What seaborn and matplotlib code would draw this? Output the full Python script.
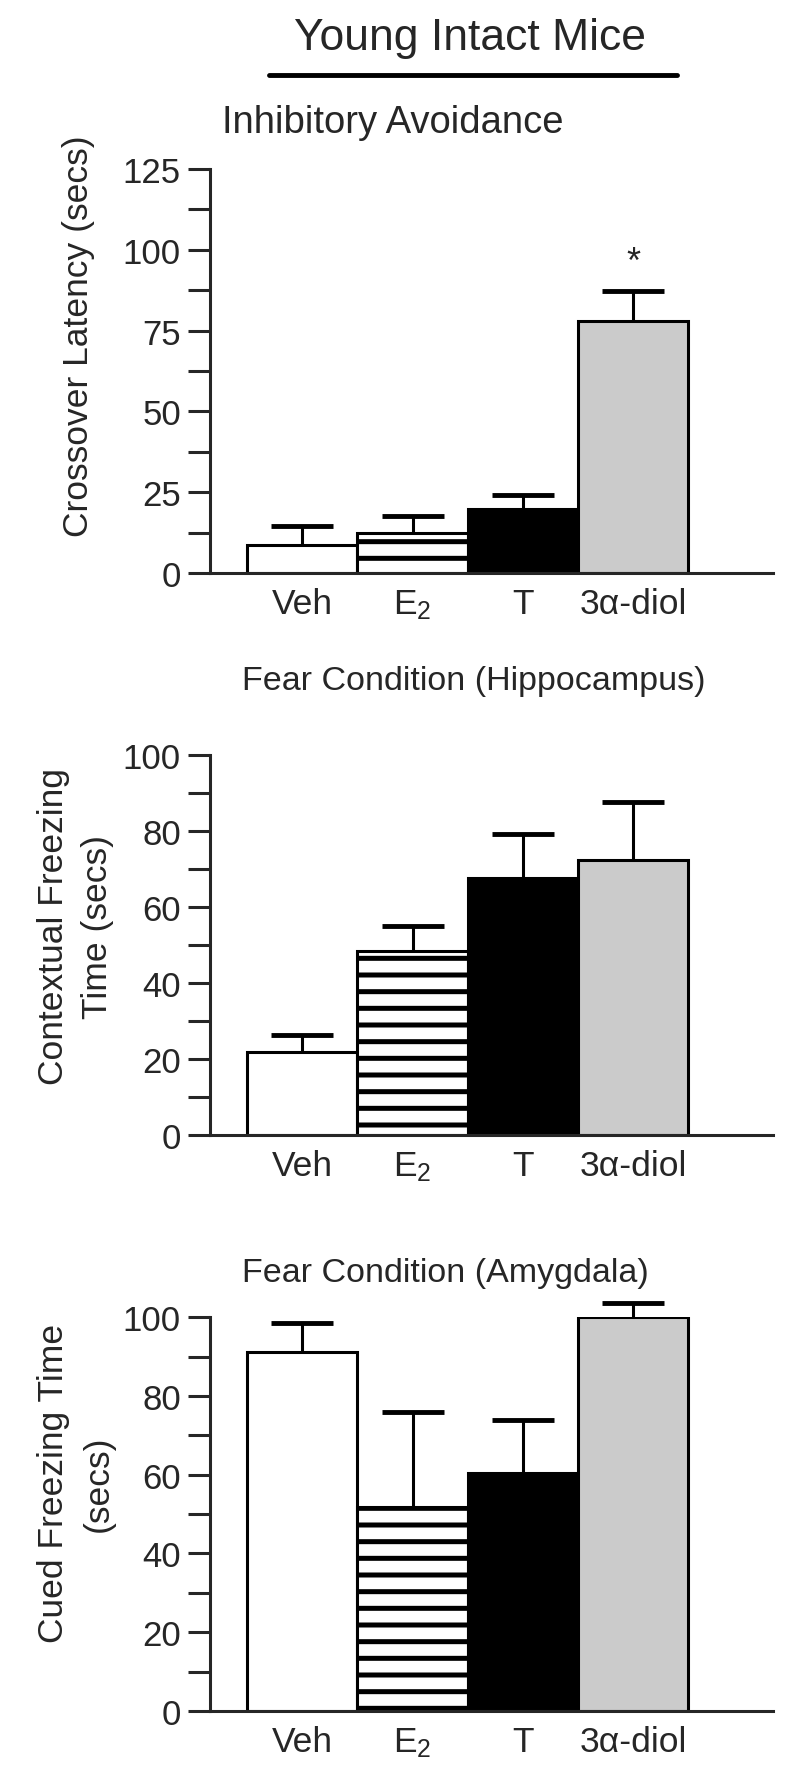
import numpy as np
import pandas as pd
import matplotlib
matplotlib.use('Agg')
import matplotlib.pyplot as plt
from matplotlib.ticker import MultipleLocator
from matplotlib.lines import Line2D
import seaborn as sns

# ---- data --------------------------------------------------------------------
groups = ['Veh', 'E$_2$', 'T', '3α-diol']

# inhibitory avoidance: crossover latency (secs)
ia_mean = [8.6, 12.4, 19.7, 78.1]
ia_err = [5.9, 5.2, 4.5, 9.3]

# fear conditioning, hippocampus: contextual freezing (secs)
hip_mean = [21.7, 48.3, 67.6, 72.3]
hip_err = [4.7, 6.8, 11.6, 15.3]

# fear conditioning, amygdala: cued freezing (secs)
amy_mean = [91.1, 51.8, 60.5, 100.0]
amy_err = [7.3, 24.2, 13.5, 3.5]

bar_colors = ['white', 'white', 'black', '#cbcbcb']
bar_hatch = ['', '-', '', '']

# ---- style -------------------------------------------------------------------
sns.set_style('ticks')
plt.rcParams['font.family'] = ['Liberation Sans', 'DejaVu Sans']
plt.rcParams['mathtext.fontset'] = 'custom'
plt.rcParams['mathtext.rm'] = 'Liberation Sans'
plt.rcParams['mathtext.it'] = 'Liberation Sans:italic'
plt.rcParams['hatch.linewidth'] = 3.6
plt.rcParams['hatch.color'] = 'black'

LW = 2.2


def draw_panel(ax, means, errs, ymax, major, ylabel, label_xy):
    df = pd.DataFrame({'group': groups, 'value': means})
    sns.barplot(data=df, x='group', y='value', hue='group', palette=bar_colors,
                width=1.0, saturation=1, edgecolor='black', linewidth=LW,
                errorbar=None, legend=False, ax=ax)
    for patch, h in zip(ax.patches, bar_hatch):
        patch.set_hatch(h)

    # upper error bars only
    eb = ax.errorbar(np.arange(len(means)), means,
                     yerr=[np.zeros(len(errs)), errs], fmt='none',
                     ecolor='black', elinewidth=LW, capsize=22, capthick=3.5,
                     clip_on=False, zorder=3)
    for cap in eb[1]:
        if np.allclose(cap.get_ydata(), means):
            cap.set_visible(False)

    ax.set_xlim(-0.836, 4.27)
    ax.set_ylim(0, ymax)
    sns.despine(ax=ax)
    ax.spines['left'].set_linewidth(LW)
    ax.spines['bottom'].set_linewidth(LW)

    ax.yaxis.set_major_locator(MultipleLocator(major))
    ax.yaxis.set_minor_locator(MultipleLocator(major / 2))
    ax.tick_params(axis='y', which='both', direction='out', length=16,
                   width=LW, labelsize=25, pad=5)
    ax.tick_params(axis='x', length=0, labelsize=25.5, pad=10)

    ax.set_xlabel('')
    ax.set_ylabel(ylabel, fontsize=25.5, linespacing=1.45)
    ax.yaxis.set_label_coords(*label_xy)


fig = plt.figure(figsize=(8, 17.81), dpi=100)

ax1 = fig.add_axes([0.2625, 0.6777, 0.704, 0.2268])
draw_panel(ax1, ia_mean, ia_err, 125, 25, 'Crossover Latency (secs)', (-0.205, 0.59))
ax1.text(3, 96, '*', ha='center', va='center', fontsize=26)

ax2 = fig.add_axes([0.2625, 0.3622, 0.704, 0.2134])
draw_panel(ax2, hip_mean, hip_err, 100, 20, 'Contextual Freezing\nTime (secs)', (-0.17, 0.55))

ax3 = fig.add_axes([0.2625, 0.0387, 0.704, 0.2212])
draw_panel(ax3, amy_mean, amy_err, 100, 20, 'Cued Freezing Time\n(secs)', (-0.17, 0.58))

# titles
fig.text(0.588, 0.9719, 'Young Intact Mice', ha='center', va='baseline', fontsize=32)
fig.add_artist(Line2D([0.336, 0.846], [0.9573, 0.9573], color='black', lw=3.5,
                      transform=fig.transFigure))
fig.text(0.2775, 0.9253, 'Inhibitory Avoidance', ha='left', va='baseline', fontsize=27.5)
fig.text(0.3025, 0.6127, 'Fear Condition (Hippocampus)', ha='left', va='baseline', fontsize=24.5)
fig.text(0.3025, 0.2802, 'Fear Condition (Amygdala)', ha='left', va='baseline', fontsize=24.5)

fig.savefig('out.png', dpi=100)
